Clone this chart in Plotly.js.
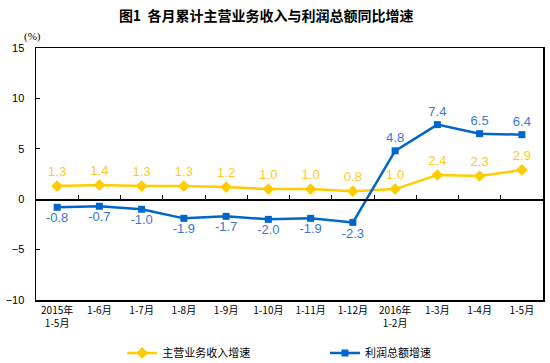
<!DOCTYPE html>
<html>
<head>
<meta charset="utf-8">
<script src="https://cdn.plot.ly/plotly-3.0.1.min.js"></script>
<style>html,body{margin:0;padding:0;background:#fff;}#chart{width:550px;height:363px;}</style>
</head>
<body>
<div id="chart"></div>
<script>
const categories = ["2015年<br>1-5月","1-6月","1-7月","1-8月","1-9月","1-10月","1-11月","1-12月","2016年<br>1-2月","1-3月","1-4月","1-5月"];
const revenueGrowth = [1.3, 1.4, 1.3, 1.3, 1.2, 1.0, 1.0, 0.8, 1.0, 2.4, 2.3, 2.9];
const profitGrowth = [-0.8, -0.7, -1.0, -1.9, -1.7, -2.0, -1.9, -2.3, 4.8, 7.4, 6.5, 6.4];
const revenueName = "主营业务收入增速";
const profitName = "利润总额增速";

const firstLine = categories.map(c => c.split("<br>")[0]);
const secondLine = categories.map(c => c.split("<br>")[1] || "");

const yellow = "#FFCC00";
const blue = "#0066CC";

const traces = [
  {
    x: categories, y: revenueGrowth, name: revenueName, type: "scatter", mode: "lines+markers+text",
    line: {color: yellow, width: 2.5}, marker: {symbol: "diamond", size: 9, color: yellow},
    text: revenueGrowth.map(v => v.toFixed(1)), textposition: "top center",
    textfont: {family: "Liberation Sans, Arial, sans-serif", size: 13, color: "#FFC820"},
    cliponaxis: false, hoverinfo: "skip", legend: "legend"
  },
  {
    x: categories, y: profitGrowth, name: profitName, type: "scatter", mode: "lines+markers+text",
    line: {color: blue, width: 2.5}, marker: {symbol: "square", size: 7, color: blue},
    text: profitGrowth.map(v => v.toFixed(1)),
    textposition: profitGrowth.map(v => v < 0 ? "bottom center" : "top center"),
    textfont: {family: "Liberation Sans, Arial, sans-serif", size: 13, color: "#3A78D0"},
    cliponaxis: false, hoverinfo: "skip", legend: "legend2"
  },
  {
    x: categories, y: categories.map(() => null), xaxis: "x2", yaxis: "y",
    type: "scatter", mode: "lines", showlegend: false, hoverinfo: "skip"
  },
  {
    x: categories, y: categories.map(() => null), xaxis: "x3", yaxis: "y",
    type: "scatter", mode: "lines", showlegend: false, hoverinfo: "skip"
  }
];

const catAxisBase = {
  type: "category", range: [-0.5, 11.5], categoryorder: "array", categoryarray: categories,
  showgrid: false, zeroline: false, automargin: false, fixedrange: true
};

const legendBase = {
  orientation: "h", y: -0.21, xanchor: "left", yanchor: "middle",
  font: {family: "Noto Sans CJK SC, sans-serif", size: 11, color: "#000"},
  bgcolor: "rgba(0,0,0,0)", itemwidth: 30
};

const layout = {
  width: 550, height: 363,
  margin: {l: 36, r: 7, t: 48, b: 63, autoexpand: false},
  paper_bgcolor: "#fff", plot_bgcolor: "#fff",
  showlegend: true,
  title: {
    text: "<b>图1  各月累计主营业务收入与利润总额同比增速</b>",
    font: {family: "Noto Sans CJK SC, sans-serif", size: 14, color: "#000"},
    x: 0.484, xanchor: "center", y: 0.955, yanchor: "middle"
  },
  xaxis: Object.assign({}, catAxisBase, {
    showline: true, mirror: true, linecolor: "#000", linewidth: 1.5, ticks: "",
    tickvals: categories, ticktext: firstLine,
    tickfont: {family: "Noto Sans CJK SC, sans-serif", size: 10, color: "#000"},
    ticklabelstandoff: 0
  }),
  xaxis2: Object.assign({}, catAxisBase, {
    overlaying: "x", anchor: "free", position: 0.4,
    showline: true, linecolor: "#000", linewidth: 1.5, ticks: "inside", ticklen: 4, tickcolor: "#000",
    tickson: "boundaries", showticklabels: false
  }),
  xaxis3: Object.assign({}, catAxisBase, {
    overlaying: "x", anchor: "y", side: "bottom", showline: false, ticks: "",
    tickvals: categories, ticktext: secondLine,
    tickfont: {family: "Noto Sans CJK SC, sans-serif", size: 10, color: "#000"},
    ticklabelstandoff: 16
  }),
  yaxis: {
    range: [-10, 15], dtick: 5, tick0: 0, showline: true, mirror: true, linecolor: "#000", linewidth: 1.5,
    ticks: "inside", ticklen: 4, tickcolor: "#000", showgrid: false, zeroline: false,
    tickfont: {family: "Liberation Sans, Arial, sans-serif", size: 11, color: "#000"},
    ticklabelstandoff: 8, automargin: false
  },
  legend: Object.assign({}, legendBase, {x: 0.17}),
  legend2: Object.assign({}, legendBase, {x: 0.57}),
  annotations: [
    {text: "(%)", xref: "paper", yref: "paper", x: -0.027, y: 1.045, xanchor: "left", yanchor: "middle",
     showarrow: false, font: {family: "Liberation Serif, serif", size: 11, color: "#000"}}
  ]
};

Plotly.newPlot("chart", traces, layout, {displayModeBar: false, staticPlot: true});
</script>
</body>
</html>
